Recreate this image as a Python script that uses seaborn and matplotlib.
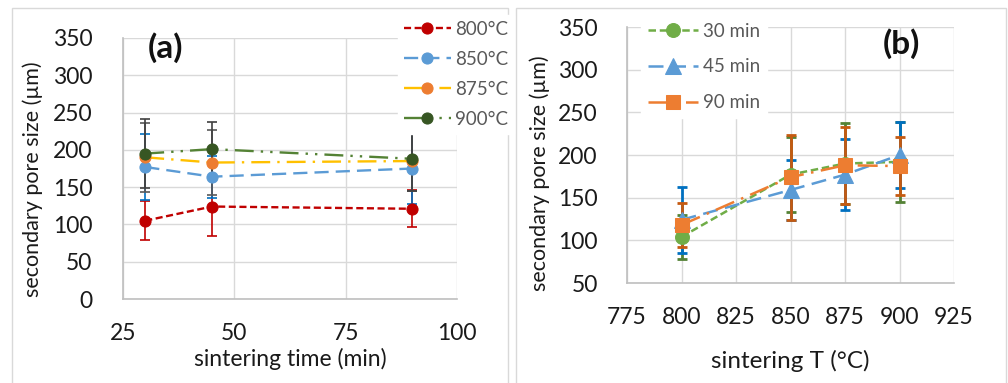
import numpy as np
import pandas as pd
import matplotlib
matplotlib.use("Agg")
import matplotlib.pyplot as plt
from matplotlib.patches import Rectangle
import seaborn as sns

# ---- panel (a): pore size vs sintering time, one series per temperature ----
times = [30, 45, 90]
temp_labels = ["800°C", "850°C", "875°C", "900°C"]
pore_800 = [105, 124, 121]
pore_850 = [177, 164, 175]
pore_875 = [190, 183, 185]
pore_900 = [195, 201, 188]
err_800 = [26, 40, 25]
err_850 = [44, 28, 48]
err_875 = [46, 43, 40]
err_900 = [46, 37, 43]

# ---- panel (b): pore size vs sintering temperature, one series per time ----
temps = [800, 850, 875, 900]
time_labels = ["30 min", "45 min", "90 min"]
pore_30 = [104, 177, 190, 192]
pore_45 = [124, 159, 177, 200]
pore_90 = [118, 174, 188, 187]
err_30 = [26, 44, 47, 47]
err_45 = [39, 35, 42, 39]
err_90 = [26, 50, 45, 34]

xticks_a = [25, 50, 75, 100]
yticks_a = [0, 50, 100, 150, 200, 250, 300, 350]
xticks_b = [775, 800, 825, 850, 875, 900, 925]
yticks_b = [50, 100, 150, 200, 250, 300, 350]

sns.set_theme(style="white")
plt.rcParams["font.family"] = ["Lato", "DejaVu Sans"]

W, H = 1008, 383
fig = plt.figure(figsize=(W / 100, H / 100), dpi=100)

# panel frames
for x0, x1 in [(12, 508), (516, 1006)]:
    fig.add_artist(Rectangle((x0 / W, -0.1), (x1 - x0) / W, 1.1 - 8 / H,
                             transform=fig.transFigure, fill=False,
                             edgecolor="#D9D9D9", linewidth=1.0, zorder=0))

ax_a = fig.add_axes([123 / W, 1 - 299 / H, (457 - 123) / W, (299 - 38) / H])
ax_b = fig.add_axes([627 / W, 1 - 283 / H, (954 - 627) / W, (283 - 27) / H])

grid_col = "#D9D9D9"
tick_col = "#1a1a1a"
label_col = "#1a1a1a"


def style_axes(ax, xticks, yticks, xpad, ypad):
    ax.set_xlim(xticks[0], xticks[-1])
    ax.set_ylim(yticks[0], yticks[-1])
    ax.set_xticks(xticks)
    ax.set_yticks(yticks)
    ax.grid(True, color=grid_col, linewidth=1.0)
    ax.set_axisbelow(True)
    for side, sp in ax.spines.items():
        if side in ("left", "bottom"):
            sp.set_color("#BFBFBF")
            sp.set_linewidth(1.2)
        else:
            sp.set_visible(False)
    ax.tick_params(axis="x", length=0, pad=xpad, labelsize=16.5, labelcolor=tick_col)
    ax.tick_params(axis="y", length=0, pad=ypad, labelsize=16.5, labelcolor=tick_col)


style_axes(ax_a, xticks_a, yticks_a, 17, 22)
style_axes(ax_b, xticks_b, yticks_b, 17, 21)

# ---- draw panel (a) ----
series_a = [
    (pore_800, err_800, "#C00000", "#C00000", "#C00000", (0, (3, 1.5))),
    (pore_850, err_850, "#5B9BD5", "#5B9BD5", "#0070C0", (0, (6, 3))),
    (pore_875, err_875, "#FFC000", "#ED7D31", "#595959", (0, (8, 3, 1, 3))),
    (pore_900, err_900, "#548235", "#375623", "#404040", (0, (8, 3, 1, 3, 1, 3))),
]
for (vals, err, lc, mc, ec, ls), lab in zip(series_a, temp_labels):
    ax_a.errorbar(times, vals, yerr=err, fmt="none", ecolor=ec,
                  elinewidth=1.2, capsize=3.5, capthick=1.2, zorder=2)
for (vals, err, lc, mc, ec, ls), lab in zip(series_a, temp_labels):
    df = pd.DataFrame({"t": times, "d": vals})
    sns.lineplot(data=df, x="t", y="d", ax=ax_a, color=lc, linewidth=1.7,
                 linestyle=ls, marker="o", markersize=8,
                 markerfacecolor=mc, markeredgecolor=mc, label=lab,
                 errorbar=None, zorder=3)

ax_a.set_xlabel("sintering time (min)", fontsize=16.5, color=label_col, labelpad=3)
ax_a.set_ylabel("secondary pore size (µm)", fontsize=15.5, color=label_col, labelpad=4)
ax_a.yaxis.set_label_coords(-0.24, 0.46)
ax_a.text(0.127, 0.965, "(a)", transform=ax_a.transAxes, fontsize=24,
          fontweight="bold", color="#111111", ha="center", va="center")

leg_a = ax_a.legend(loc="upper left", bbox_to_anchor=(398 / W, 1 - 15 / H),
                    bbox_transform=fig.transFigure, frameon=True, fancybox=False,
                    framealpha=1.0, edgecolor="white", fontsize=13.5,
                    handlelength=2.5, handletextpad=0.25, labelspacing=0.7,
                    borderpad=0.3, borderaxespad=0)
for t in leg_a.get_texts():
    t.set_color("#595959")

# ---- draw panel (b) ----
series_b = [
    (pore_30, err_30, "#70AD47", "#548235", "o", 10, (0, (3, 1.5))),
    (pore_45, err_45, "#5B9BD5", "#0070C0", "^", 11, (0, (6, 3))),
    (pore_90, err_90, "#ED7D31", "#C55A11", "s", 10.5, (0, (8, 3, 1, 3))),
]
for (vals, err, c, ec, mk, ms, ls), lab in zip(series_b, time_labels):
    ax_b.errorbar(temps, vals, yerr=err, fmt="none", ecolor=ec,
                  elinewidth=2.0, capsize=3.5, capthick=2.0, zorder=2)
    df = pd.DataFrame({"T": temps, "d": vals})
    sns.lineplot(data=df, x="T", y="d", ax=ax_b, color=c, linewidth=1.8,
                 linestyle=ls, marker=mk, markersize=ms,
                 markerfacecolor=c, markeredgecolor=c, label=lab,
                 errorbar=None, zorder=3)

ax_b.set_xlabel("sintering T (°C)", fontsize=17.5, color=label_col, labelpad=16)
ax_b.set_ylabel("secondary pore size (µm)", fontsize=15.5, color=label_col, labelpad=4)
ax_b.yaxis.set_label_coords(-0.235, 0.43)
ax_b.text(0.84, 0.935, "(b)", transform=ax_b.transAxes, fontsize=24,
          fontweight="bold", color="#111111", ha="center", va="center")

leg_b = ax_b.legend(loc="upper left", bbox_to_anchor=(641 / W, 1 - 16 / H),
                    bbox_transform=fig.transFigure, frameon=True, fancybox=False,
                    framealpha=1.0, edgecolor="white", fontsize=13.5,
                    handlelength=2.7, handletextpad=0.25, labelspacing=1.0,
                    borderpad=0.35, borderaxespad=0)
for t in leg_b.get_texts():
    t.set_color("#595959")

fig.savefig("out.png", dpi=100, facecolor="white")
